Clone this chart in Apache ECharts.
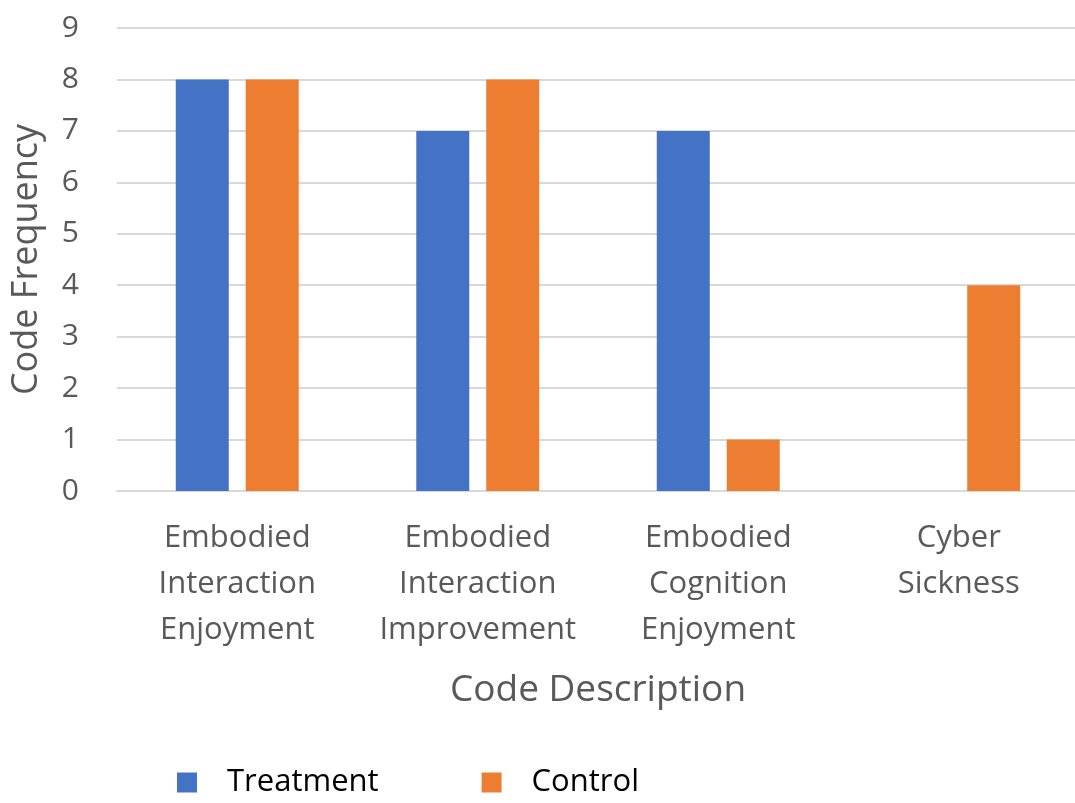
<!DOCTYPE html>
<html>
<head>
<meta charset="utf-8">
<script src="https://cdn.jsdelivr.net/npm/echarts@6/dist/echarts.min.js"></script>
<style>
  html, body { margin: 0; padding: 0; background: #fff; }
  #chart { width: 1075px; height: 803px; }
</style>
</head>
<body>
<div id="chart"></div>
<script>
var categories = [
    'Embodied\nInteraction\nEnjoyment',
    'Embodied\nInteraction\nImprovement',
    'Embodied\nCognition\nEnjoyment',
    'Cyber\nSickness'
];
var treatment = [8, 7, 7, 0];
var control = [8, 8, 1, 4];
var yTicks = [0, 9, 1]; // min, max, interval

var chart = echarts.init(document.getElementById('chart'));
var font = '"Open Sans", "Noto Sans", sans-serif';

var option = {
    backgroundColor: '#fff',
    animation: false,
    textStyle: { fontFamily: font },
    grid: { left: 117, top: 28, width: 962, height: 463, outerBoundsMode: 'none' },
    legend: {
        left: 172,
        top: 762,
        icon: 'rect',
        itemWidth: 20,
        itemHeight: 20,
        itemGap: 103,
        textStyle: { fontSize: 31, color: '#000', fontFamily: font, padding: [0, 0, 0, 25] },
        data: ['Treatment', 'Control']
    },
    xAxis: {
        type: 'category',
        data: categories,
        name: 'Code Description',
        nameLocation: 'middle',
        nameGap: 181,
        nameTextStyle: { fontSize: 37, color: '#595959', fontFamily: font },
        axisLine: { lineStyle: { color: '#d9d9d9', width: 2 } },
        axisTick: { show: false },
        axisLabel: { fontSize: 31, color: '#595959', lineHeight: 46, margin: 24, interval: 0, fontFamily: font }
    },
    yAxis: {
        type: 'value',
        min: yTicks[0],
        max: yTicks[1],
        interval: yTicks[2],
        name: 'Code Frequency',
        nameLocation: 'middle',
        nameGap: 72,
        nameTextStyle: { fontSize: 36, color: '#595959', fontFamily: font },
        axisLine: { show: false },
        axisTick: { show: false },
        axisLabel: { fontSize: 30, color: '#595959', margin: 38, fontFamily: font },
        splitLine: { lineStyle: { color: '#d9d9d9', width: 2 } }
    },
    series: [
        {
            name: 'Treatment',
            type: 'bar',
            data: treatment,
            barWidth: 53,
            barGap: '32%',
            itemStyle: { color: '#4472C4' }
        },
        {
            name: 'Control',
            type: 'bar',
            data: control,
            barWidth: 53,
            barGap: '32%',
            itemStyle: { color: '#ED7D31' }
        }
    ]
};

chart.setOption(option);
</script>
</body>
</html>
